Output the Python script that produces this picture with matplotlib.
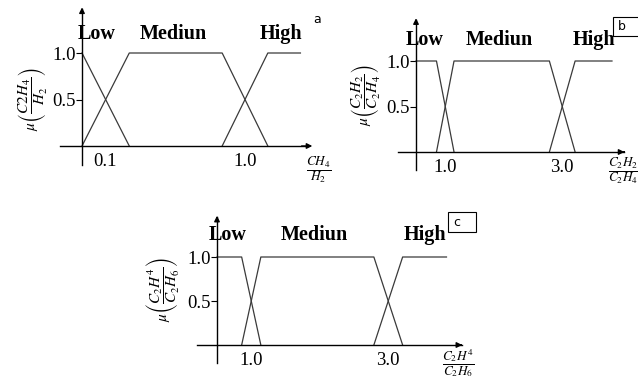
import matplotlib
matplotlib.use("Agg")
import matplotlib.pyplot as plt
from matplotlib.patches import Rectangle

plt.rcParams['font.family'] = ['Liberation Serif', 'DejaVu Serif']
plt.rcParams['mathtext.fontset'] = 'stix'

W, H = 638, 382

# --- membership function breakpoints (x in axis units, y = membership) ---
a_low_x = [0, 0.29]
a_low_y = [1, 0]
a_med_x = [0, 0.29, 0.86, 1.14]
a_med_y = [0, 1, 1, 0]
a_high_x = [0.86, 1.14, 1.34]
a_high_y = [0, 1, 1]
a_ticks = [0.14, 1.0]
a_ticklabels = ['0.1', '1.0']

b_low_x = [0.5, 0.85, 1.15]
b_low_y = [1, 1, 0]
b_med_x = [0.85, 1.15, 2.78, 3.22]
b_med_y = [0, 1, 1, 0]
b_high_x = [2.78, 3.22, 3.85]
b_high_y = [0, 1, 1]
b_ticks = [1.0, 3.0]
b_ticklabels = ['1.0', '3.0']

c_low_x = [0.5, 0.86, 1.14]
c_low_y = [1, 1, 0]
c_med_x = [0.86, 1.14, 2.79, 3.21]
c_med_y = [0, 1, 1, 0]
c_high_x = [2.79, 3.21, 3.85]
c_high_y = [0, 1, 1]
c_ticks = [1.0, 3.0]
c_ticklabels = ['1.0', '3.0']

y_ticks = [0.5, 1.0]
y_ticklabels = ['0.5', '1.0']
set_names = ['Low', 'Mediun', 'High']

fig = plt.figure(figsize=(W / 100, H / 100), dpi=100)


def make_panel(box, ox, oy, sx, sy, xa):
    l, t, r, b = box
    ax = fig.add_axes([l / W, 1 - b / H, (r - l) / W, (b - t) / H])
    ax.set_xlim(xa + (l - ox) / sx, xa + (r - ox) / sx)
    ax.set_ylim((oy - b) / sy, (oy - t) / sy)
    ax.patch.set_alpha(0)
    return ax


def draw(ax, xa, xr, yr, series, ticks, ticklabels, name_pos, ylab, ylab_pos, xlab, xlab_pos):
    for sp in ['top', 'right']:
        ax.spines[sp].set_visible(False)
    ax.spines['left'].set_position(('data', xa))
    ax.spines['left'].set_bounds(yr[0], yr[1] - 0.05)
    ax.spines['bottom'].set_position(('data', 0))
    ax.spines['bottom'].set_bounds(xr[0], xr[1] - 0.05)
    for sp in ['left', 'bottom']:
        ax.spines[sp].set_linewidth(1.0)
    ax.annotate('', xy=(xa, yr[1]), xytext=(xa, yr[1] - 0.1),
                arrowprops=dict(arrowstyle='-|>', color='k', lw=1, mutation_scale=8))
    ax.annotate('', xy=(xr[1], 0), xytext=(xr[1] - 0.1, 0),
                arrowprops=dict(arrowstyle='-|>', color='k', lw=1, mutation_scale=8))
    for xs, ys in series:
        ax.plot(xs, ys, color='#3a3a3a', lw=0.9, clip_on=False)
    ax.set_xticks(ticks)
    ax.set_xticklabels(ticklabels, fontsize=13.5)
    ax.tick_params(axis='x', length=0, pad=5)
    ax.set_yticks(y_ticks)
    ax.set_yticklabels(y_ticklabels, fontsize=13.5)
    ax.tick_params(axis='y', length=4, width=0.8, pad=0.5)
    for name, (px, py) in zip(set_names, name_pos):
        ax.text(px, py, name, fontsize=14.5, fontweight='bold', ha='center', va='center')
    ax.text(ylab_pos[0], ylab_pos[1], ylab, rotation=90, fontsize=11,
            ha='center', va='center')
    ax.text(xlab_pos[0], xlab_pos[1], xlab, fontsize=9.5, ha='center', va='center')


# panel a
ax_a = make_panel((0, 0, 340, 195), 82, 146, 163, 93, 0)
draw(ax_a, 0, (-0.135, 1.43), (-0.2, 1.52),
     [(a_low_x, a_low_y), (a_med_x, a_med_y), (a_high_x, a_high_y)],
     a_ticks, a_ticklabels,
     [(0.09, 1.2), (0.56, 1.2), (1.22, 1.2)],
     r'$\mu\left(\dfrac{C2H_4}{H_2}\right)$', (-0.30, 0.5),
     r'$\dfrac{CH_4}{H_2}$', (1.45, -0.26))
ax_a.text(1.44, 1.36, 'a', fontsize=9, family='DejaVu Sans', ha='center', va='center')

# panel b
ax_b = make_panel((340, 0, 638, 195), 416, 152, 58.5, 91, 0.5)
draw(ax_b, 0.5, (0.196, 4.11), (-0.2, 1.5),
     [(b_low_x, b_low_y), (b_med_x, b_med_y), (b_high_x, b_high_y)],
     b_ticks, b_ticklabels,
     [(0.64, 1.23), (1.92, 1.23), (3.54, 1.23)],
     r'$\mu\left(\dfrac{C_2H_2}{C_2H_4}\right)$', (-0.34, 0.63),
     r'$\dfrac{C_2H_2}{C_2H_4}$', (4.04, -0.21))

# panel c
ax_c = make_panel((100, 195, 520, 382), 217, 345, 68.5, 88, 0.5)
draw(ax_c, 0.5, (0.21, 4.12), (-0.2, 1.5),
     [(c_low_x, c_low_y), (c_med_x, c_med_y), (c_high_x, c_high_y)],
     c_ticks, c_ticklabels,
     [(0.65, 1.25), (1.92, 1.25), (3.54, 1.25)],
     r'$\mu\left(\dfrac{C_2H^4}{C_2H_6}\right)$', (-0.29, 0.63),
     r'$\dfrac{C_2H^4}{C_2H_6}$', (4.02, -0.2))

# boxed panel letters
for (l, t, r, b), letter in [((613, 17, 645, 36), 'b'), ((448, 212, 476, 232), 'c')]:
    fig.patches.append(Rectangle((l / W, 1 - b / H), (r - l) / W, (b - t) / H,
                                 transform=fig.transFigure, fill=False,
                                 edgecolor='k', lw=0.8))
    fig.text((l + 5) / W, 1 - (t + b) / 2 / H, letter, fontsize=9,
             family='DejaVu Sans', ha='left', va='center')

fig.savefig('out.png', dpi=100)
